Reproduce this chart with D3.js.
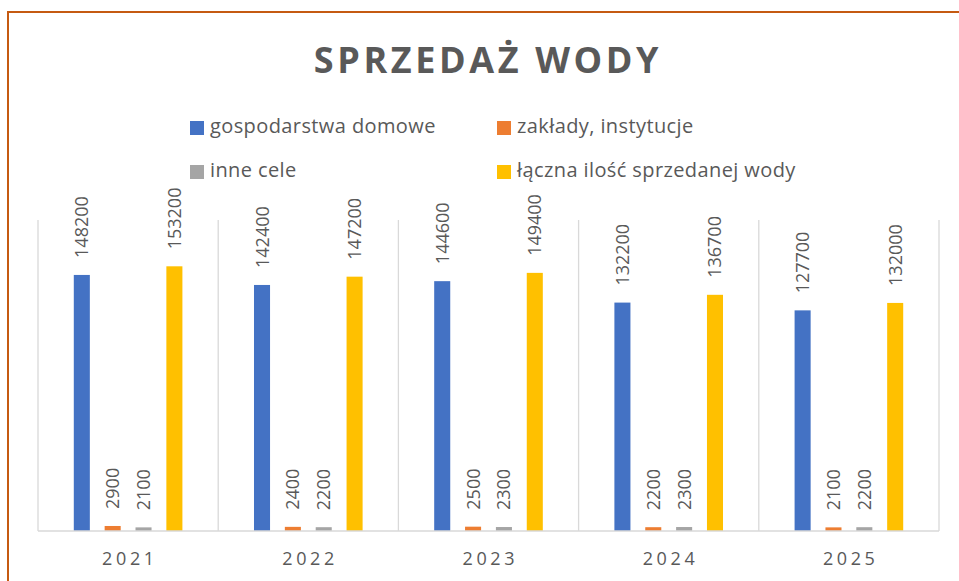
<!DOCTYPE html>
<html>
<head>
<meta charset="utf-8">
<script src="https://cdn.jsdelivr.net/npm/d3@7"></script>
<style>
  html, body { margin: 0; padding: 0; background: #fff; }
  svg { display: block; }
</style>
</head>
<body>
<svg id="chart" width="959" height="581"></svg>
<script>
const years = ["2021", "2022", "2023", "2024", "2025"];
const seriesNames = ["gospodarstwa domowe", "zakłady, instytucje", "inne cele", "łączna ilość sprzedanej wody"];
const households = [148200, 142400, 144600, 132200, 127700];
const institutions = [2900, 2400, 2500, 2200, 2100];
const otherUses = [2100, 2200, 2300, 2300, 2200];
const totalSold = [153200, 147200, 149400, 136700, 132000];
const seriesColors = ["#4472C4", "#ED7D31", "#A5A5A5", "#FFC000"];
const title = "SPRZEDAŻ WODY";

const seriesValues = [households, institutions, otherUses, totalSold];
const FONT = "'Open Sans', sans-serif";
const TXT = "#595959";

const svg = d3.select("#chart");

// Outer frame (extends past the photo on right/bottom)
svg.append("rect")
  .attr("x", 8).attr("y", 12).attr("width", 1000).attr("height", 700)
  .attr("fill", "none").attr("stroke", "#C55A11").attr("stroke-width", 2);

// Title
svg.append("text")
  .attr("x", 488).attr("y", 73)
  .attr("text-anchor", "middle")
  .attr("font-family", FONT).attr("font-weight", 700)
  .attr("font-size", 36).attr("letter-spacing", 3.6)
  .attr("fill", TXT)
  .text(title);

// Legend
const legendPos = [[190, 121], [497, 121], [190, 165], [497, 165]];
seriesNames.forEach((name, i) => {
  const g = svg.append("g").attr("transform", `translate(${legendPos[i][0]},${legendPos[i][1]})`);
  g.append("rect").attr("width", 14).attr("height", 14).attr("fill", seriesColors[i]);
  g.append("text").attr("x", 20).attr("y", 12)
    .attr("font-family", FONT).attr("font-size", 20).attr("letter-spacing", 0.4)
    .attr("fill", TXT).text(name);
});

// Scales
const x0 = d3.scaleBand().domain(years).range([38, 939]).padding(0);
const x1 = d3.scaleBand().domain(d3.range(4)).range([0, x0.bandwidth()])
  .paddingInner(0.48).paddingOuter(1.16);
const y = d3.scaleLinear().domain([0, 180000]).range([531, 220]);

// Vertical category separators
const bounds = years.map(d => x0(d)).concat([x0.range()[1]]);
svg.append("g").selectAll("line").data(bounds).join("line")
  .attr("x1", d => d).attr("x2", d => d)
  .attr("y1", y(180000)).attr("y2", y(0))
  .attr("stroke", "#D9D9D9").attr("stroke-width", 1.3);

// Bars and labels
const flat = [];
years.forEach((yr, i) => seriesValues.forEach((arr, s) => flat.push({ yr, s, v: arr[i] })));

svg.append("g").selectAll("rect").data(flat).join("rect")
  .attr("x", d => x0(d.yr) + x1(d.s))
  .attr("y", d => y(d.v))
  .attr("width", x1.bandwidth())
  .attr("height", d => y(0) - y(d.v))
  .attr("fill", d => seriesColors[d.s]);

svg.append("g").selectAll("text").data(flat).join("text")
  .attr("transform", d => `translate(${x0(d.yr) + x1(d.s) + x1.bandwidth() / 2},${y(d.v) - 17}) rotate(-90)`)
  .attr("dy", "0.36em")
  .attr("font-family", FONT).attr("font-size", 18)
  .attr("fill", TXT)
  .text(d => d.v);

// Baseline
svg.append("line")
  .attr("x1", x0.range()[0]).attr("x2", x0.range()[1])
  .attr("y1", y(0)).attr("y2", y(0))
  .attr("stroke", "#D9D9D9").attr("stroke-width", 1.5);

// X axis labels
const xAxis = d3.axisBottom(x0).tickSize(0).tickPadding(0);
const ax = svg.append("g").attr("transform", `translate(0,${y(0)})`).call(xAxis);
ax.select(".domain").remove();
ax.selectAll("text")
  .attr("y", 34).attr("dy", 0).attr("dx", 1.8)
  .attr("font-family", FONT).attr("font-size", 18)
  .attr("letter-spacing", 3.6)
  .attr("fill", TXT);
</script>
</body>
</html>
